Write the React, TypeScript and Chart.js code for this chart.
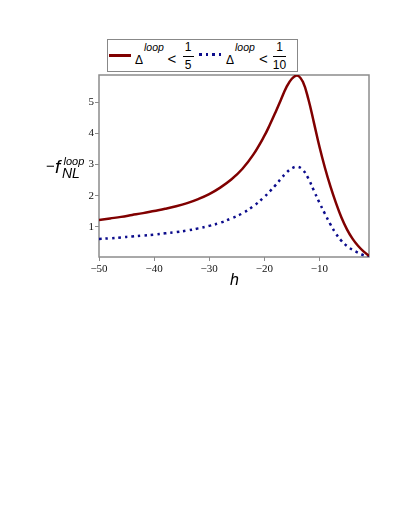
import React, { useEffect, useRef } from "react";
import { Chart, registerables } from "chart.js";

Chart.register(...registerables);

// ---- data ----
const hValues = [-50, -48, -46, -44, -42, -40, -38, -36, -34, -32, -30, -28, -26, -24, -22, -20, -19, -18, -17, -16, -15, -14, -13, -12, -11, -10, -9, -8, -7, -6, -5, -4, -3, -2, -1];
const loopFifth = [1.22, 1.27, 1.32, 1.38, 1.44, 1.51, 1.58, 1.66, 1.76, 1.89, 2.05, 2.26, 2.52, 2.86, 3.32, 3.92, 4.28, 4.67, 5.08, 5.48, 5.76, 5.86, 5.66, 5.1, 4.35, 3.58, 2.9, 2.3, 1.77, 1.3, 0.92, 0.62, 0.39, 0.21, 0.07];
const loopTenth = [0.61, 0.63, 0.66, 0.69, 0.72, 0.75, 0.79, 0.83, 0.88, 0.95, 1.03, 1.13, 1.27, 1.43, 1.66, 1.96, 2.14, 2.33, 2.54, 2.74, 2.88, 2.93, 2.83, 2.55, 2.16, 1.78, 1.42, 1.08, 0.78, 0.55, 0.38, 0.26, 0.17, 0.09, 0.035];
const xTickValues = [-50, -40, -30, -20, -10];
const yTickValues = [1, 2, 3, 4, 5];
const xRange = [-50, -1];
const yRange = [0.03, 5.88];

// ---- layout ----
const W = 391;
const H = 300;
const AREA = { left: 91, top: 67, right: 361, bottom: 249 };
const Y_W = 30;
const X_H = 20;

const RED = "#800000";
const BLUE = "#0c0c8c";
const SANS = '"Liberation Sans", Arial, Helvetica, sans-serif';
const SERIF = '"Liberation Serif", "Times New Roman", serif';

const fmt = (v: number) => String(v).replace("-", "\u2212");

const boxPlugin = {
  id: "box",
  beforeDatasetsDraw(chart: any) {
    const { ctx, chartArea } = chart;
    const { left, top, right, bottom } = chartArea;
    ctx.save();
    ctx.strokeStyle = "#8c8c8c";
    ctx.lineWidth = 1.5;
    ctx.strokeRect(left, top, right - left, bottom - top);
    ctx.restore();
  },
};

type TP = { x: number; b: number; size: number; italic?: boolean; center?: boolean; children: React.ReactNode; font?: string };
function T({ x, b, size, italic, center, children, font }: TP) {
  return (
    <span
      style={{
        position: "absolute",
        left: x,
        top: b - 0.8465 * size,
        fontSize: size,
        lineHeight: `${size}px`,
        fontStyle: italic ? "italic" : "normal",
        fontFamily: font || SANS,
        whiteSpace: "nowrap",
        color: "#000",
        transform: center ? "translateX(-50%)" : undefined,
      }}
    >
      {children}
    </span>
  );
}

function Dot({ x, y }: { x: number; y: number }) {
  return <div style={{ position: "absolute", left: x - 1.25, top: y - 1.25, width: 2.5, height: 2.5, background: BLUE }} />;
}

export default function App() {
  const ref = useRef<HTMLCanvasElement | null>(null);

  useEffect(() => {
    if (!ref.current) return;
    const chart = new Chart(ref.current, {
      type: "line",
      data: {
        datasets: [
          {
            label: "loop < 1/5",
            data: hValues.map((h, i) => ({ x: h, y: loopFifth[i] })),
            borderColor: RED,
            borderWidth: 2.5,
            pointRadius: 0,
            tension: 0.4,
            fill: false,
          },
          {
            label: "loop < 1/10",
            data: hValues.map((h, i) => ({ x: h, y: loopTenth[i] })),
            borderColor: BLUE,
            borderWidth: 2.5,
            borderDash: [2.5, 4],
            borderCapStyle: "butt",
            pointRadius: 0,
            tension: 0.4,
            fill: false,
          },
        ],
      },
      options: {
        animation: false,
        responsive: false,
        devicePixelRatio: 1,
        layout: {
          padding: { left: AREA.left - Y_W, top: AREA.top, right: W - AREA.right, bottom: H - AREA.bottom - X_H },
        },
        plugins: { legend: { display: false }, tooltip: { enabled: false } },
        scales: {
          x: {
            type: "linear",
            min: xRange[0],
            max: xRange[1],
            afterBuildTicks: (s: any) => {
              s.ticks = xTickValues.map((v) => ({ value: v }));
            },
            afterFit: (s: any) => {
              s.height = X_H;
            },
            grid: { drawOnChartArea: false, drawTicks: true, tickLength: 4, color: "#8c8c8c", lineWidth: 1 },
            border: { display: false },
            ticks: { font: { family: SERIF, size: 11 }, color: "#111", padding: 2, maxRotation: 0, callback: (v: any) => fmt(v) },
          },
          y: {
            type: "linear",
            min: yRange[0],
            max: yRange[1],
            afterBuildTicks: (s: any) => {
              s.ticks = yTickValues.map((v) => ({ value: v }));
            },
            afterFit: (s: any) => {
              s.width = Y_W;
            },
            grid: { drawOnChartArea: false, drawTicks: true, tickLength: 4, color: "#8c8c8c", lineWidth: 1 },
            border: { display: false },
            ticks: { font: { family: SERIF, size: 11 }, color: "#111", padding: 1, callback: (v: any) => fmt(v) },
          },
        },
      },
      plugins: [boxPlugin],
    } as any);
    return () => chart.destroy();
  }, []);

  return (
    <div style={{ position: "relative", width: W, height: H }}>
      <canvas ref={ref} width={W} height={H} style={{ position: "absolute", left: 0, top: 0, width: W, height: H }} />

      {/* legend */}
      <div style={{ position: "absolute", left: 98.5, top: 30.5, width: 191, height: 33, border: "1.5px solid #888", boxSizing: "border-box", background: "#fff" }} />
      <div style={{ position: "absolute", left: 101, top: 46, width: 22, height: 2.5, background: RED }} />
      <T x={127} b={56} size={12}>Δ</T>
      <T x={136} b={42.5} size={10.5} italic>loop</T>
      <T x={159.5} b={55.5} size={15}>&lt;</T>
      <T x={180} b={43.5} size={12} center>1</T>
      <div style={{ position: "absolute", left: 175, top: 47.5, width: 10.5, height: 1.2, background: "#000" }} />
      <T x={180} b={61} size={12} center>5</T>

      <Dot x={192.5} y={46.3} />
      <Dot x={199} y={46.3} />
      <Dot x={205.5} y={46.3} />
      <Dot x={212} y={46.3} />
      <T x={218} b={56} size={12}>Δ</T>
      <T x={227} b={42.5} size={10.5} italic>loop</T>
      <T x={251} b={55.5} size={15}>&lt;</T>
      <T x={271.5} b={43.5} size={12} center>1</T>
      <div style={{ position: "absolute", left: 264.7, top: 47.5, width: 13.5, height: 1.2, background: "#000" }} />
      <T x={271.5} b={61} size={12} center>10</T>

      {/* y axis title */}
      <T x={38} b={163} size={15}>−</T>
      <T x={47} b={165} size={19} italic>f</T>
      <T x={55.5} b={157} size={11} italic>loop</T>
      <T x={54} b={169.5} size={14} italic>NL</T>

      {/* x axis title */}
      <T x={222} b={278} size={16} italic>h</T>
    </div>
  );
}
